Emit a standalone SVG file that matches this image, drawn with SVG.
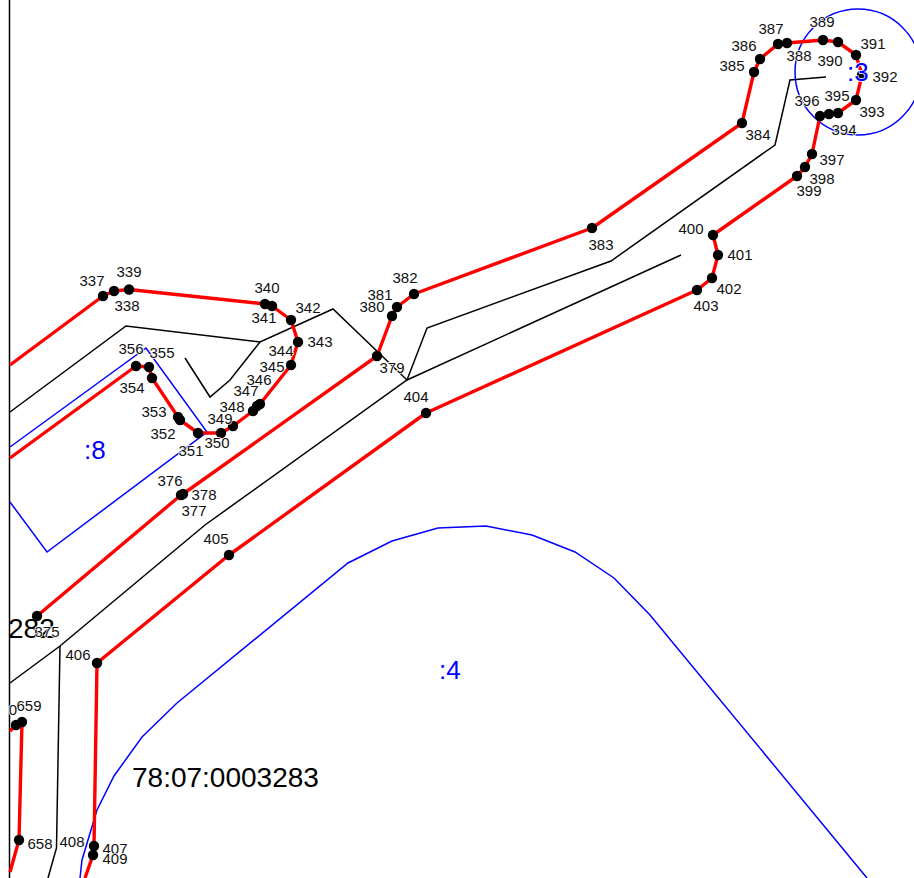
<svg xmlns="http://www.w3.org/2000/svg" width="914" height="878" viewBox="0 0 914 878">
<style>
.bk{fill:none;stroke:#000;stroke-width:1.5}
.bl{fill:none;stroke:#0000ff;stroke-width:1.5}
.rd{fill:none;stroke:#ff0000;stroke-width:3.4;stroke-linejoin:round}
.d{fill:#000}
text{font-family:"Liberation Sans",Arial,sans-serif;paint-order:stroke;stroke:#fff;stroke-width:1.5px}
.n{font-size:15px;text-anchor:middle;fill:#111}
.b{font-size:26px;fill:#0000ff}
.k{font-size:28px;fill:#000;stroke:none}
</style>
<rect width="914" height="878" fill="#fff"/>
<g id="connectors">
<path class="bk" d="M9.500 0V878"/>
<path class="bk" d="M10 412L126 326L260 342L333 309L407 380L427 328L611 261L775 145L790 80L826 77"/>
<path class="bk" d="M260 342L230 380L210 397L185 358"/>
<path class="bk" d="M10 683L60 646L205 525L407 380L681 255"/>
<path class="bk" d="M60 646L56.500 848L48 878"/>
<path class="bl" d="M10 447L146 348L207 432L47 552L10 502"/>
<path class="bl" d="M80 878L82 860L97 810L114 776L142 737L177 703L348 563L392 541L438 528L486 526L532 535L575 552L614 578L650 615L867 878"/>
<circle class="bl" cx="858" cy="72" r="63"/>
<path class="rd" d="M10 365L103 296L114 291L129 289.500L265 304L272 306L291 320L298 342L291 365L260 404L253 411L233 426L221 433L198 433L180 420L178 417L152 378L149 367L136 366L10 458"/>
<path class="rd" d="M37 616L181 495L183 494L377 356L392 316L397 307L414 294L592 228L742 123L754 72L760 59L778 44L787 43L823 40L838 42L856 55L862 75L856 100L838 113L829 114L820 116L812 154L805 167L797 176L713 235L718 255L712 278L697 290L426 413L229 555L97 663L94 846L93 855L85 878"/>
<path class="rd" d="M10 731L16 725L22 722L19 840L10 872"/>
</g>
<g id="points" class="d">
<circle cx="103" cy="296" r="5.200"/><circle cx="114" cy="291" r="5.200"/><circle cx="129" cy="289.500" r="5.200"/><circle cx="265" cy="304" r="5.200"/><circle cx="272" cy="306" r="5.200"/><circle cx="291" cy="320" r="5.200"/><circle cx="298" cy="342" r="5.200"/><circle cx="291" cy="365" r="5.200"/><circle cx="260" cy="404" r="5.200"/><circle cx="257" cy="406" r="5.200"/><circle cx="253" cy="411" r="5.200"/><circle cx="233" cy="426" r="5.200"/><circle cx="221" cy="433" r="5.200"/><circle cx="198" cy="433" r="5.200"/><circle cx="180" cy="420" r="5.200"/><circle cx="178" cy="417" r="5.200"/><circle cx="152" cy="378" r="5.200"/><circle cx="149" cy="367" r="5.200"/><circle cx="136" cy="366" r="5.200"/>
<circle cx="37" cy="616" r="5.200"/><circle cx="181" cy="495" r="5.200"/><circle cx="183" cy="494" r="5.200"/><circle cx="377" cy="356" r="5.200"/><circle cx="392" cy="316" r="5.200"/><circle cx="397" cy="307" r="5.200"/><circle cx="414" cy="294" r="5.200"/><circle cx="592" cy="228" r="5.200"/><circle cx="742" cy="123" r="5.200"/><circle cx="754" cy="72" r="5.200"/><circle cx="760" cy="59" r="5.200"/><circle cx="778" cy="44" r="5.200"/><circle cx="787" cy="43" r="5.200"/><circle cx="823" cy="40" r="5.200"/><circle cx="838" cy="42" r="5.200"/><circle cx="856" cy="55" r="5.200"/><circle cx="862" cy="75" r="5.200"/><circle cx="856" cy="100" r="5.200"/><circle cx="838" cy="113" r="5.200"/><circle cx="829" cy="114" r="5.200"/><circle cx="820" cy="116" r="5.200"/><circle cx="812" cy="154" r="5.200"/><circle cx="805" cy="167" r="5.200"/><circle cx="797" cy="176" r="5.200"/><circle cx="713" cy="235" r="5.200"/><circle cx="718" cy="255" r="5.200"/><circle cx="712" cy="278" r="5.200"/><circle cx="697" cy="290" r="5.200"/><circle cx="426" cy="413" r="5.200"/><circle cx="229" cy="555" r="5.200"/><circle cx="97" cy="663" r="5.200"/><circle cx="94" cy="846" r="5.200"/><circle cx="93" cy="855" r="5.200"/>
<circle cx="16" cy="725" r="5.200"/><circle cx="22" cy="722" r="5.200"/><circle cx="19" cy="840" r="5.200"/>
</g>
<g id="labels">
<text class="n" x="92" y="286">337</text><text class="n" x="127" y="311">338</text><text class="n" x="129" y="277">339</text><text class="n" x="267" y="293">340</text><text class="n" x="264" y="323">341</text><text class="n" x="308" y="313">342</text><text class="n" x="320" y="347">343</text><text class="n" x="281" y="356">344</text><text class="n" x="272" y="372">345</text><text class="n" x="259" y="385">346</text><text class="n" x="246" y="396">347</text><text class="n" x="232" y="412">348</text><text class="n" x="220" y="424">349</text><text class="n" x="217" y="448">350</text><text class="n" x="191" y="456">351</text><text class="n" x="163" y="439">352</text><text class="n" x="154" y="417">353</text><text class="n" x="132" y="393">354</text><text class="n" x="162" y="358">355</text><text class="n" x="131" y="354">356</text>
<text class="n" x="170" y="486">376</text><text class="n" x="194" y="516">377</text><text class="n" x="204" y="500">378</text><text class="n" x="392" y="373">379</text><text class="n" x="372" y="312">380</text><text class="n" x="380" y="300">381</text><text class="n" x="405" y="283">382</text><text class="n" x="601" y="250">383</text><text class="n" x="758" y="140">384</text><text class="n" x="732" y="71">385</text><text class="n" x="744" y="51">386</text><text class="n" x="771" y="34">387</text><text class="n" x="799" y="61">388</text><text class="n" x="822" y="27">389</text><text class="n" x="830" y="66">390</text><text class="n" x="873" y="49">391</text><text class="n" x="885" y="82">392</text><text class="n" x="872" y="117">393</text><text class="n" x="844" y="135">394</text><text class="n" x="837" y="101">395</text><text class="n" x="807" y="106">396</text><text class="n" x="832" y="165">397</text><text class="n" x="822" y="184">398</text><text class="n" x="809" y="196">399</text><text class="n" x="691" y="234">400</text><text class="n" x="740" y="260">401</text><text class="n" x="729" y="294">402</text><text class="n" x="706" y="311">403</text><text class="n" x="416" y="402">404</text><text class="n" x="216" y="544">405</text><text class="n" x="78" y="660">406</text><text class="n" x="115" y="854">407</text><text class="n" x="72" y="847">408</text><text class="n" x="115" y="864">409</text><text class="n" x="40" y="849">658</text><text class="n" x="29" y="711">659</text><text class="n" x="13" y="715">0</text>
<text class="k" x="8" y="638">282</text>
<text class="n" x="47" y="637">375</text>
<text class="k" x="132" y="787">78:07:0003283</text>
<text class="b" x="84" y="459">:8</text>
<text class="b" x="439" y="679">:4</text>
<text class="b" x="847" y="81">:3</text>
</g>
</svg>
